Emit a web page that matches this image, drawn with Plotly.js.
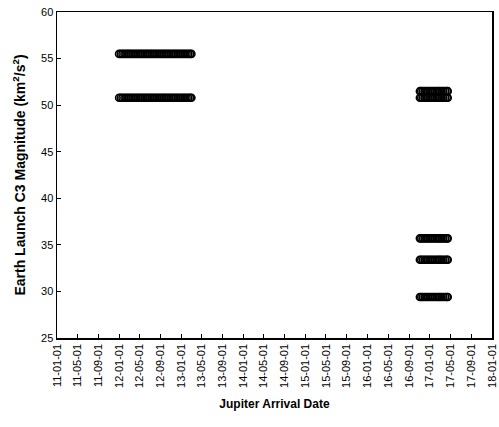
<!DOCTYPE html>
<html>
<head>
<meta charset="utf-8">
<script src="https://cdn.plot.ly/plotly-3.0.1.min.js"></script>
<style>html,body{margin:0;padding:0;background:#fff;}#chart{width:499px;height:427px;}</style>
</head>
<body>
<div id="chart"></div>
<script>
// Jupiter arrival dates, launch window 1
const window1Dates = [
  '2012-01-01','2012-01-11','2012-01-21','2012-02-01','2012-02-11','2012-02-21',
  '2012-03-01','2012-03-11','2012-03-21','2012-04-01','2012-04-11','2012-04-21',
  '2012-05-01','2012-05-11','2012-05-21','2012-06-01','2012-06-11','2012-06-21',
  '2012-07-01','2012-07-11','2012-07-21','2012-08-01','2012-08-11','2012-08-21',
  '2012-09-01','2012-09-11','2012-09-21','2012-10-01','2012-10-11','2012-10-21',
  '2012-11-01','2012-11-11','2012-11-21','2012-12-01','2012-12-11','2012-12-21',
  '2013-01-01','2013-01-11','2013-01-21','2013-02-01','2013-02-11','2013-02-21',
  '2013-03-01'
];
// Earth launch C3 levels for window 1 (km^2/s^2)
const window1C3 = [55.5, 50.8];

// Jupiter arrival dates, launch window 2
const window2Dates = [
  '2016-11-03','2016-11-11','2016-11-21','2016-12-01','2016-12-11','2016-12-21',
  '2017-01-01','2017-01-11','2017-01-21','2017-02-01','2017-02-11','2017-02-21',
  '2017-03-01','2017-03-11','2017-03-21','2017-04-01','2017-04-11','2017-04-16'
];
// Earth launch C3 levels for window 2 (km^2/s^2)
const window2C3 = [51.5, 50.8, 35.7, 33.4, 29.4];

const yTicks = [25, 30, 35, 40, 45, 50, 55, 60];

const marker = {symbol: 'circle-open', size: 7, color: '#000', line: {width: 1.6, color: '#000'}};
const traces = [];
function addRows(dates, levels) {
  levels.forEach(level => {
    traces.push({
      type: 'scatter', mode: 'markers',
      x: dates,
      y: dates.map(() => level),
      marker: marker,
      hoverinfo: 'x+y'
    });
  });
}
addRows(window1Dates, window1C3);
addRows(window2Dates, window2C3);

const font = {family: '"Liberation Sans", Arial, sans-serif', color: '#000'};

const layout = {
  width: 499, height: 427,
  margin: {l: 57, r: 7, t: 12, b: 89},
  showlegend: false,
  paper_bgcolor: '#fff', plot_bgcolor: '#fff',
  font: font,
  xaxis: {
    type: 'date',
    range: ['2011-01-01', '2018-01-01'],
    tick0: '2011-01-01', dtick: 'M4',
    tickformat: '%y-%m-%d',
    tickangle: -90,
    ticks: 'inside', ticklen: 4, tickwidth: 1, tickcolor: '#000',
    showgrid: false, zeroline: false,
    showline: true, linecolor: '#000', linewidth: 1.5, mirror: true,
    tickfont: {family: font.family, size: 11, color: '#000'},
    title: {text: '<b>Jupiter Arrival Date</b>', font: {family: font.family, size: 12, color: '#000'}, standoff: 12}
  },
  yaxis: {
    range: [25, 60],
    tickvals: yTicks,
    ticks: 'inside', ticklen: 4, tickwidth: 1, tickcolor: '#000',
    showgrid: false, zeroline: false,
    showline: true, linecolor: '#000', linewidth: 1.5, mirror: true,
    tickfont: {family: font.family, size: 11, color: '#000'},
    title: {text: '<b>Earth Launch C3 Magnitude (km<sup>2</sup>/s<sup>2</sup>)</b>', font: {family: font.family, size: 14, color: '#000'}, standoff: 12}
  }
};

Plotly.newPlot('chart', traces, layout, {staticPlot: true, displayModeBar: false});
</script>
</body>
</html>
